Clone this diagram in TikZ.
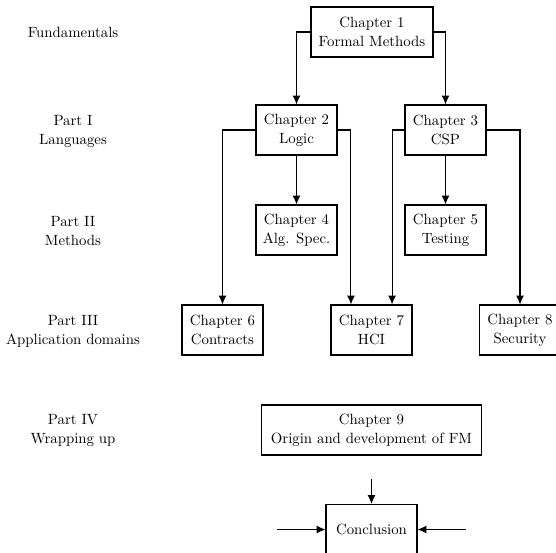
\documentclass[tikz,border=0pt]{standalone}
\usetikzlibrary{arrows.meta,calc}
\begin{document}
\begin{tikzpicture}[x=0.675pt,y=-0.675pt,
  txt/.style={font=\fontsize{10}{12.8}\selectfont, align=center, inner sep=0pt},
  chap/.style={txt, draw, line width=0.75pt, minimum width=81*0.675pt, minimum height=50*0.675pt},
  conn/.style={line width=0.7pt, -{Latex[length=6pt,width=5.4pt]}}]
\useasboundingbox (0,0) rectangle (556,553);
% left labels
\node[txt] (lf) at (73,32) {Fundamentals};
\node[txt] (l1) at (73,131) {Part I\\Languages};
\node[txt] (l2) at (73,231) {Part II\\Methods};
\node[txt] (l3) at (73,331) {Part III\\Application domains};
\node[txt] (l4) at (73,430) {Part IV\\Wrapping up};
% chapters
\node[chap, minimum width=122*0.675pt] (ch1) at (372,32) {Chapter 1\\Formal Methods};
\node[chap] (ch2) at (296.5,130) {Chapter 2\\Logic};
\node[chap] (ch3) at (445.5,130) {Chapter 3\\CSP};
\node[chap] (ch4) at (296.5,230) {Chapter 4\\Alg. Spec.};
\node[chap] (ch5) at (445.5,230) {Chapter 5\\Testing};
\node[chap] (ch6) at (222.5,330) {Chapter 6\\Contracts};
\node[chap] (ch7) at (371.5,330) {Chapter 7\\HCI};
\node[chap] (ch8) at (520,330) {Chapter 8\\Security};
\node[chap, minimum width=220*0.675pt] (ch9) at (371.5,430) {Chapter 9\\Origin and development of FM};
\node[chap, minimum width=91*0.675pt] (con) at (371.5,529.5) {Conclusion};
% free ends
\coordinate (ct) at (371.5,479);
\coordinate (cl) at (277,529.5);
\coordinate (cr) at (466,529.5);
% connectors
\draw[conn] (ch1.west) -| (ch2.north);
\draw[conn] (ch1.east) -| (ch3.north);
\draw[conn] (ch2.south) -- (ch4.north);
\draw[conn] (ch3.south) -- (ch5.north);
\draw[conn] (ch2.west) -| (ch6.north);
\draw[conn] (ch2.east) -| ($(ch7.north west)!0.25!(ch7.north east)$);
\draw[conn] (ch3.west) -| ($(ch7.north west)!0.75!(ch7.north east)$);
\draw[conn] (ch3.east) -| (ch8.north);
\draw[conn] (ct) -- (con.north);
\draw[conn] (cl) -- (con.west);
\draw[conn] (cr) -- (con.east);
\end{tikzpicture}
\end{document}
